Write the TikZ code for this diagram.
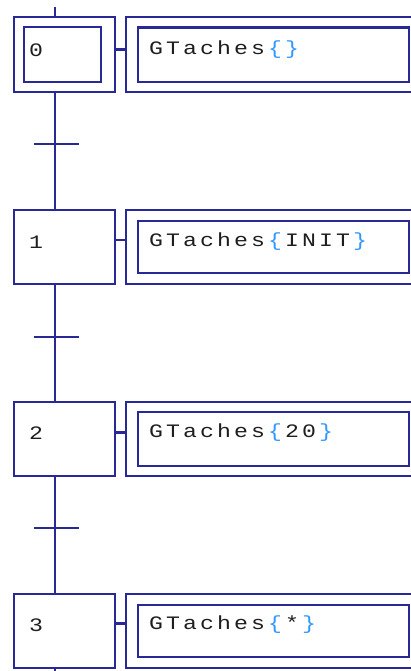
\documentclass[tikz,border=0pt]{standalone}
\usepackage{fontspec}
\usepackage{graphicx}
\newfontfamily\grafmono{Liberation Mono}
\definecolor{grafline}{RGB}{40,40,150}
\definecolor{graftext}{RGB}{30,30,30}
\definecolor{grafbrace}{RGB}{50,150,255}
% fixed-pitch character cells, as on the editor screen
\newcommand\cell[1]{\makebox[17pt][l]{\scalebox{1.22}[1]{#1}}}
\newcommand\cells[1]{\cellsloop#1\relax}
\def\cellsloop#1{\ifx#1\relax\else\cell{#1}\expandafter\cellsloop\fi}
\newcommand\gtaches[1]{\cells{GTaches}{\color{grafbrace}\cell{\{}}#1{\color{grafbrace}\cell{\}}}}
\tikzset{
  grafbox/.style={draw=grafline, line width=2.1pt, anchor=north west, inner sep=0pt},
  grafwire/.style={draw=grafline, line width=2.1pt},
  graflabel/.style={anchor=west, inner sep=0pt, text=graftext, font=\grafmono\fontsize{19}{19}\selectfont},
}
\begin{document}
\begin{tikzpicture}[x=1pt,y=-1pt]
\useasboundingbox (0,0) rectangle (411,671);
\clip (0,0) rectangle (411,671);

% step 0 (initial step, double frame)
\node[grafbox, minimum width=101pt, minimum height=75pt] (s0) at (12.7,16) {};
\node[grafbox, minimum width=77.3pt, minimum height=54.7pt] (s0i) at (22.7,26.3) {};
\node[graflabel] (n0) at (29,50) {\cell{0}};
\node[grafbox, minimum width=300pt, minimum height=75pt] (a0) at (125.3,16) {};
\node[grafbox, minimum width=270.7pt, minimum height=54.7pt] (a0i) at (137,26.5) {};
\node[graflabel] (t0) at (149,50) {\gtaches{}};

% step 1
\node[grafbox, minimum width=101pt, minimum height=73.5pt] (s1) at (12.7,209) {};
\node[graflabel] (n1) at (29,242) {\cell{1}};
\node[grafbox, minimum width=300pt, minimum height=73.5pt] (a1) at (125.3,209) {};
\node[grafbox, minimum width=270.7pt, minimum height=52.7pt] (a1i) at (137,219.5) {};
\node[graflabel] (t1) at (149,242) {\gtaches{\cells{INIT}}};

% step 2
\node[grafbox, minimum width=101pt, minimum height=74.5pt] (s2) at (12.7,400.5) {};
\node[graflabel] (n2) at (29,433) {\cell{2}};
\node[grafbox, minimum width=300pt, minimum height=74.5pt] (a2) at (125.3,400.5) {};
\node[grafbox, minimum width=270.7pt, minimum height=54pt] (a2i) at (137,411) {};
\node[graflabel] (t2) at (149,433) {\gtaches{\cells{20}}};

% step 3
\node[grafbox, minimum width=101pt, minimum height=73.5pt] (s3) at (12.7,593) {};
\node[graflabel] (n3) at (29,625) {\cell{3}};
\node[grafbox, minimum width=300pt, minimum height=73.5pt] (a3) at (125.3,593) {};
\node[grafbox, minimum width=270.7pt, minimum height=52.7pt] (a3i) at (137,603.5) {};
\node[graflabel] (t3) at (149,625) {\gtaches{\cells{*}}};

% links between steps and their actions
\draw[grafwire] (s0.east |- 0,49.5) -- (a0.west |- 0,49.5);
\draw[grafwire] (s1.east |- 0,240) -- (a1.west |- 0,240);
\draw[grafwire] (s2.east |- 0,432.5) -- (a2.west |- 0,432.5);
\draw[grafwire] (s3.east |- 0,623.5) -- (a3.west |- 0,623.5);

% transitions
\coordinate (in0) at (55.3,7);
\coordinate (tr1) at (55.3,144);
\coordinate (tr2) at (55.3,337);
\coordinate (tr3) at (55.3,528.3);
\coordinate (out3) at (55.3,671);
\draw[grafwire] (in0) -- (in0 |- s0.north);
\draw[grafwire] (tr1 |- s0.south) -- (tr1) -- (tr1 |- s1.north);
\draw[grafwire] (tr2 |- s1.south) -- (tr2) -- (tr2 |- s2.north);
\draw[grafwire] (tr3 |- s2.south) -- (tr3) -- (tr3 |- s3.north);
\draw[grafwire] (out3 |- s3.south) -- (out3);
\foreach \t in {tr1,tr2,tr3}
  \draw[grafwire] ([xshift=-21pt]\t) -- ([xshift=24pt]\t);
\end{tikzpicture}
\end{document}
